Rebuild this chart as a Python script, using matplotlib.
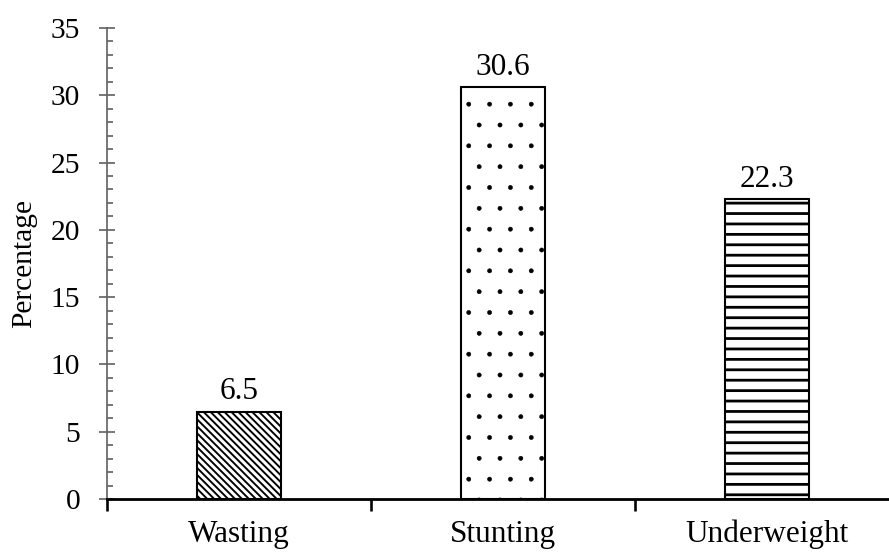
import matplotlib

matplotlib.use("Agg")

import matplotlib.pyplot as plt
from matplotlib.ticker import FixedLocator, MultipleLocator

categories = ["Wasting", "Stunting", "Underweight"]
values = [6.5, 30.6, 22.3]
hatches = ["\\" * 6, ".", "--"]
hatch_widths = [1.1, 0.3, 1.6]
y_ticks = [0, 5, 10, 15, 20, 25, 30, 35]

plt.rcParams["font.family"] = ["Liberation Serif", "DejaVu Serif"]
plt.rcParams["hatch.linewidth"] = 1.2
plt.rcParams["hatch.color"] = "#3a3a3a"

fig = plt.figure(figsize=(889 / 125, 553 / 125), dpi=125)
ax = fig.add_axes([0.1204, 0.0976, 0.891, 0.8518])

positions = list(range(len(categories)))
bars = ax.bar(positions, values, width=0.32, color="white", edgecolor="black", linewidth=1.2)
for bar, hatch, hw in zip(bars, hatches, hatch_widths):
    bar.set_hatch(hatch)
    if hasattr(bar, "set_hatch_linewidth"):
        bar.set_hatch_linewidth(hw)

for pos, val in zip(positions, values):
    ax.annotate(f"{val}", (pos, val), xytext=(0, 3), textcoords="offset points",
                ha="center", va="bottom", fontsize=18)

ax.set_xlim(-0.5, len(categories) - 0.5)
ax.set_ylim(0, 35)
ax.set_yticks(y_ticks)
ax.yaxis.set_minor_locator(MultipleLocator(1))

# category boundaries get ticks, centres get the labels
ax.xaxis.set_major_locator(FixedLocator([p - 0.5 for p in positions] + [len(categories) - 0.5]))
ax.xaxis.set_major_formatter(plt.NullFormatter())
ax.xaxis.set_minor_locator(FixedLocator(positions))
ax.set_xticklabels(categories, minor=True)

ax.tick_params(axis="x", which="major", direction="out", length=7, width=1.5, color="black")
ax.tick_params(axis="x", which="minor", length=0, pad=12, labelsize=18)
ax.tick_params(axis="y", which="major", direction="inout", length=9, width=1, color="#666666",
               pad=11, labelsize=17)
ax.tick_params(axis="y", which="minor", direction="in", length=3.5, width=1, color="#666666")

ax.set_ylabel("Percentage", fontsize=17, labelpad=8)

for side in ["top", "right"]:
    ax.spines[side].set_visible(False)
ax.spines["left"].set_color("#666666")
ax.spines["left"].set_linewidth(1)
ax.spines["bottom"].set_color("black")
ax.spines["bottom"].set_linewidth(1.6)

fig.savefig("out.png", dpi=125)
